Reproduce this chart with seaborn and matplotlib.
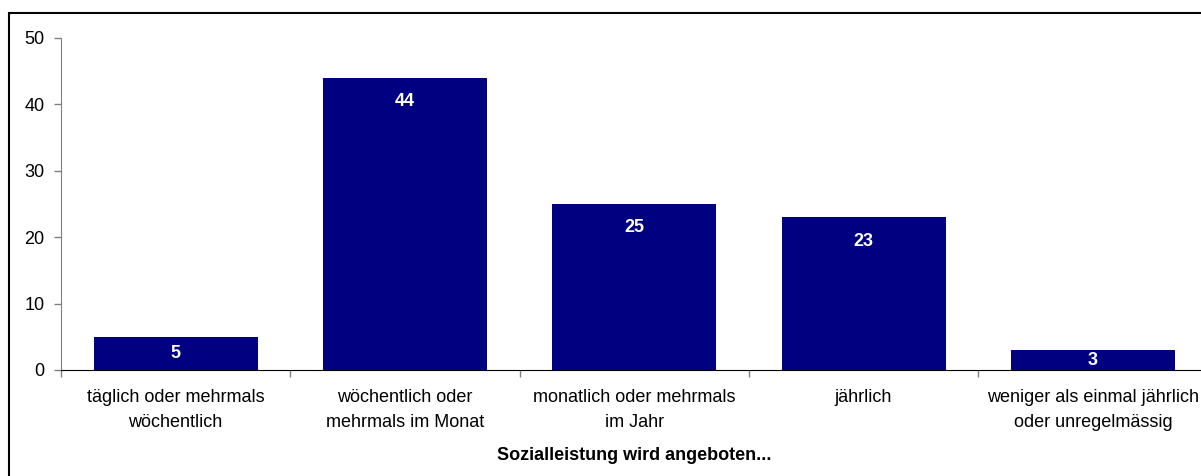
import matplotlib
matplotlib.use("Agg")
import matplotlib.pyplot as plt
import matplotlib.patches as mpatches
import seaborn as sns

categories = [
    "täglich oder mehrmals\nwöchentlich",
    "wöchentlich oder\nmehrmals im Monat",
    "monatlich oder mehrmals\nim Jahr",
    "jährlich",
    "weniger als einmal jährlich\noder unregelmässig",
]
values = [5, 44, 25, 23, 3]
y_ticks = [0, 10, 20, 30, 40, 50]
x_title = "Sozialleistung wird angeboten..."

sns.set_style("white")
plt.rcParams["font.family"] = ["Liberation Sans", "DejaVu Sans"]
plt.rcParams["text.color"] = "black"
plt.rcParams["axes.labelcolor"] = "black"
plt.rcParams["xtick.labelcolor"] = "black"
plt.rcParams["ytick.labelcolor"] = "black"

fig = plt.figure(figsize=(12.01, 4.76), dpi=100)
ax = fig.add_axes([61 / 1201, 106 / 476, 1146.5 / 1201, 332 / 476])

sns.barplot(x=categories, y=values, color="#000080", saturation=1, width=0.715,
            linewidth=0, ax=ax)

# value labels: near the top of tall bars, centred in short ones
for bar, v in zip(ax.patches, values):
    x = bar.get_x() + bar.get_width() / 2
    if v >= 10:
        ax.annotate(str(v), (x, v), xytext=(0, -11), textcoords="offset points",
                    ha="center", va="top", color="white", fontsize=13, fontweight="bold")
    else:
        ax.annotate(str(v), (x, v / 2), ha="center", va="center",
                    color="white", fontsize=13, fontweight="bold")

ax.set_xlim(-0.5, len(categories) - 0.5)
ax.set_ylim(0, 50)
ax.set_yticks(y_ticks)
ax.tick_params(axis="y", length=5, width=1, color="#808080", pad=7, labelsize=13, left=True)
ax.tick_params(axis="x", which="major", length=0, pad=14, labelsize=13)
ax.set_xticks([i + 0.5 for i in range(-1, len(categories))], minor=True)
ax.tick_params(axis="x", which="minor", length=5, width=1, color="#808080", bottom=True)
for lbl in ax.get_xticklabels():
    lbl.set_linespacing(1.55)

sns.despine(ax=ax, top=True, right=True)
ax.spines["left"].set_color("#808080")
ax.spines["bottom"].set_color("black")
ax.set_xlabel(x_title, fontsize=13, fontweight="bold", labelpad=12)
ax.set_ylabel("")

# outer frame of the chart (right and bottom edges fall outside the image)
fig.patches.append(mpatches.Rectangle((9 / 1201, -0.1), 1.2, (463 / 476) + 0.1,
                                      transform=fig.transFigure, fill=False,
                                      edgecolor="black", linewidth=1.5))

fig.savefig("out.png", dpi=100)
